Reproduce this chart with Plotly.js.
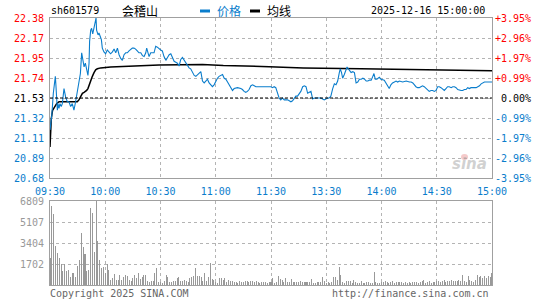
<!DOCTYPE html>
<html>
<head>
<meta charset="utf-8">
<script src="https://cdn.plot.ly/plotly-3.0.1.min.js"></script>
<style>html,body{margin:0;padding:0;background:#fff;}#chart{width:545px;height:300px;}</style>
</head>
<body>
<div id="chart"></div>
<script>
// ---- data (minute index from 09:30; 120 = 11:30/13:00, 240 = 15:00) ----
const stockCode = "sh601579";
const stockName = "会稽山";
const stamp = "2025-12-16 15:00:00";
const prevClose = 21.53;
const priceLabels = ["20.68","20.89","21.11","21.32","21.53","21.74","21.95","22.17","22.38"];
const pctLabels = ["-3.95%","-2.96%","-1.97%","-0.99%","\u00a00.00%","+0.99%","+1.97%","+2.96%","+3.95%"];
const volLabels = ["1702","3404","5107","6809"];
const timeLabels = ["09:30","10:00","10:30","11:00","11:30","13:30","14:00","14:30","15:00"];

const priceTime = [0,1,1.8,2.5,2.9,3.2,3.6,4,4.3,4.9,5.4,6.1,6.7,7.2,7.6,8.5,9.4,10.3,11.2,12.1,13,13.9,14.8,15.7,16.5,17.2,17.9,18.5,19.2,19.9,20.6,21.2,21.5,22.1,22.6,23.2,23.9,24.4,25,25.3,26.1,26.6,27.2,27.9,28.4,29.3,30.2,31.1,32,32.9,33.9,34.8,35.7,36.6,37.5,38.4,39.3,40.2,41.1,42,42.9,43.8,44.7,45.6,46.5,47.4,48.3,49.3,50.2,51.1,52,52.5,53.2,53.8,54.7,55.6,56.5,57.4,58.3,
60.1,61,61.9,62.9,63.8,64.7,65.6,66.5,67.4,68.3,69.2,70.1,71,71.9,72.8,73.7,74.6,75.5,76.4,77.3,78.3,79.2,80.1,81,81.9,82.8,83.7,84.6,85.5,86.4,87.3,88.2,89.1,90,90.9,91.8,92.7,93.7,94.6,95.5,96.4,97.3,98.2,99.1,100,101.8,103.6,104.5,105.4,106.3,107.2,108.1,109.1,110,110.9,111.8,114.5,118,
120,120.8,121.7,122.6,123.5,124.4,125.3,126.2,127.2,128.1,129,129.9,130.8,131.7,132.6,133.5,134.4,135.3,136.2,137.2,138.1,139,139.9,140.8,141.7,142.6,143.5,145.3,147.1,148,148.9,149.8,150.7,151.6,152.5,153.5,154.4,155.3,156.2,157.1,157.6,158.3,158.9,159.8,160.7,161.3,162,162.6,163.5,164.4,165.3,166.2,167.1,168,169,169.9,170.8,171.7,172.6,173.5,174.4,175.3,175.9,176.6,177.5,
178.8,179.7,181.5,182.4,183.3,184.2,185.1,186,187,187.9,188.8,189.7,191.5,193.4,195.2,196.1,197,197.8,198.7,199.6,200.5,201.4,202.3,203.2,204.1,205,205.9,206.9,207.8,208.7,209.6,210.5,211.4,212.3,213.2,214.1,215,215.9,216.8,217.8,218.7,219.6,220.5,221.4,223.2,224.1,225,225.9,226.8,227.7,228.6,229.6,231.4,232.3,233.2,234.1,235,235.9,240];
const priceValue = [21.19,21.35,21.58,21.72,21.76,21.67,21.51,21.40,21.47,21.42,21.47,21.44,21.47,21.58,21.63,21.54,21.49,21.49,21.44,21.47,21.40,21.49,21.58,21.69,21.79,22.01,21.92,21.86,21.90,21.83,21.77,21.90,22.13,22.25,22.27,22.21,22.27,22.34,22.38,22.25,22.20,22.22,22.18,22.15,22.06,22.02,22.00,22.04,22.02,22.00,22.02,22.05,22.01,22.06,21.99,21.95,21.93,21.99,22.01,22.01,22.03,22.05,22.06,22.06,22.05,22.03,22.01,22.01,21.98,21.97,22.01,22.06,21.99,21.97,22.01,22.01,22.01,22.08,22.07,
22.04,22.03,21.97,21.93,21.96,21.99,22.00,21.96,21.92,21.91,21.90,21.87,21.94,21.96,21.93,21.90,21.87,21.85,21.84,21.80,21.77,21.76,21.78,21.80,21.81,21.71,21.69,21.71,21.73,21.69,21.67,21.65,21.67,21.71,21.74,21.76,21.77,21.78,21.74,21.73,21.70,21.67,21.64,21.61,21.63,21.64,21.63,21.62,21.60,21.59,21.60,21.62,21.66,21.67,21.66,21.65,21.65,21.65,
21.65,21.64,21.65,21.64,21.58,21.53,21.51,21.53,21.51,21.51,21.51,21.50,21.49,21.50,21.52,21.55,21.55,21.57,21.60,21.65,21.66,21.65,21.58,21.59,21.60,21.52,21.53,21.53,21.53,21.52,21.51,21.52,21.53,21.53,21.55,21.63,21.68,21.67,21.71,21.80,21.84,21.80,21.74,21.78,21.83,21.86,21.84,21.82,21.80,21.81,21.80,21.69,21.70,21.73,21.73,21.74,21.73,21.71,21.71,21.72,21.72,21.76,21.79,21.73,21.73,
21.75,21.73,21.72,21.69,21.65,21.63,21.67,21.69,21.70,21.71,21.70,21.71,21.70,21.71,21.70,21.70,21.69,21.67,21.65,21.64,21.64,21.65,21.66,21.65,21.63,21.61,21.60,21.61,21.61,21.60,21.61,21.65,21.65,21.64,21.62,21.61,21.63,21.65,21.65,21.64,21.65,21.65,21.64,21.62,21.61,21.61,21.62,21.62,21.64,21.63,21.64,21.64,21.64,21.65,21.66,21.68,21.69,21.70,21.70];

const avgTime = [0,0.7,1.4,2.5,3.6,4.9,14.8,15.7,16.6,17.6,18.5,19.9,20.6,21.4,22.1,23,23.9,24.8,25.7,27.5,32.9,43.8,51.1,59.2,82.8,94.1,119,123.5,137.6,168.7,225.3,240];
const avgValue = [21.01,21.31,21.40,21.44,21.47,21.49,21.49,21.51,21.54,21.58,21.59,21.61,21.63,21.68,21.73,21.76,21.80,21.83,21.84,21.85,21.86,21.87,21.87,21.88,21.885,21.874,21.863,21.86,21.85,21.84,21.83,21.82];

const volume = [2160,6426,5778,3186,2565,2214,1701,1161,1701,1161,1242,621,945,945,621,1566,2052,4239,3105,2538,1161,1242,6210,5805,2700,6809,3591,2052,1350,1431,972,1701,1242,432,540,918,405,432,837,432,675,837,756,432,297,540,837,540,999,486,648,837,837,351,270,324,351,972,1404,270,216,162,351,837,621,270,270,324,324,594,675,324,324,405,324,270,594,621,702,1350,756,702,621,351,972,351,648,1809,486,432,270,162,567,540,378,540,270,405,324,324,216,270,162,351,216,270,324,351,270,324,324,243,297,216,162,216,216,216,162,270,216,
540,162,216,756,486,405,270,594,216,216,513,270,216,270,270,351,216,270,270,216,270,513,162,162,216,270,270,621,351,162,270,162,216,675,675,432,1485,837,216,162,351,351,351,162,432,270,162,162,351,162,162,216,216,162,162,1080,270,162,162,270,216,351,216,162,216,351,162,216,270,270,216,162,270,162,216,162,270,216,270,162,270,351,405,162,216,324,162,270,270,324,324,270,324,405,270,324,324,405,324,351,324,405,324,810,324,216,756,432,351,216,432,810,621,756,594,702,594,756,648,972];

// ---- styling ----
const RED = "#ff0000", BLUE = "#0a7dcc", GRAY = "#999999";
const MONO = "DejaVu Sans Mono, monospace";
const CJK = "Noto Sans CJK SC, sans-serif";
const L = 50, R = 53, T = 18, B = 15, W = 545, H = 300;
const pw = W - L - R, ph = H - T - B;
const px = x => (x - L) / pw;
const py = y => (H - B - y) / ph;

const yMin = 20.68, yMax = 22.38;
const step = (yMax - yMin) / (priceLabels.length - 1);
const priceTicks = priceLabels.map((_, k) => yMin + k * step);
const colorOf = k => k < 4 ? BLUE : (k === 4 ? "#000000" : RED);
const priceText = priceLabels.map((t, k) => `<span style="color:${colorOf(k)}">${t}</span>`);
const pctText = pctLabels.map((t, k) => `<span style="color:${colorOf(k)}">${t}</span>`);
const timeTicks = timeLabels.map((_, k) => k * 30);
const volMax = Math.max(...volume);
const volTicks = volLabels.map(Number);
const minutes = volume.map((_, i) => i);

const traces = [
  {x: minutes, y: volume, type: "bar", xaxis: "x2", yaxis: "y2", width: 0.55,
   marker: {color: GRAY, line: {width: 0}}, hoverinfo: "skip"},
  {x: avgTime, y: avgValue, type: "scatter", mode: "lines", xaxis: "x", yaxis: "y",
   line: {color: "#000000", width: 1.5}},
  {x: priceTime, y: priceValue, type: "scatter", mode: "lines", xaxis: "x", yaxis: "y",
   line: {color: BLUE, width: 1.1}},
  {x: [0], y: [prevClose], type: "scatter", mode: "markers", xaxis: "x", yaxis: "y3",
   marker: {opacity: 0}, hoverinfo: "skip"}
];

const gridStyle = {showgrid: true, gridcolor: "#b4b4b4", griddash: "dot", gridwidth: 1,
  showline: true, mirror: true, linecolor: "#a0a0a0", linewidth: 1, zeroline: false, ticks: ""};

const layout = {
  width: W, height: H, margin: {l: L, r: R, t: T, b: B},
  paper_bgcolor: "#ffffff", plot_bgcolor: "#ffffff", showlegend: false, bargap: 0,
  xaxis: Object.assign({}, gridStyle, {domain: [0, 1], anchor: "y", range: [0, 240],
    tickvals: timeTicks, ticktext: timeLabels, ticklabelstandoff: 4,
    tickfont: {family: MONO, size: 10, color: BLUE}}),
  yaxis: Object.assign({}, gridStyle, {domain: [py(178), 1], anchor: "x", range: [yMin, yMax],
    tickvals: priceTicks, ticktext: priceText, ticklabelstandoff: 3,
    tickfont: {family: MONO, size: 10, color: "#000"}}),
  yaxis3: {overlaying: "y", side: "right", anchor: "x", range: [yMin, yMax], showgrid: false,
    zeroline: false, showline: false, ticks: "", tickvals: priceTicks, ticktext: pctText,
    ticklabelstandoff: 2, tickfont: {family: MONO, size: 10, color: "#000"}},
  xaxis2: Object.assign({}, gridStyle, {domain: [0, 1], anchor: "y2", range: [0, 240],
    tickvals: timeTicks, showticklabels: false}),
  yaxis2: Object.assign({}, gridStyle, {domain: [0, py(201)], anchor: "x2", range: [0, volMax],
    tickvals: volTicks, ticktext: volLabels, ticklabelstandoff: 3,
    tickfont: {family: MONO, size: 10, color: GRAY}}),
  shapes: [
    {type: "line", xref: "x", yref: "y", x0: 0, x1: 240, y0: prevClose, y1: prevClose,
     line: {color: "#000", width: 1, dash: "3px,2px"}},
    {type: "line", xref: "paper", yref: "paper", x0: px(200), x1: px(210), y0: py(11), y1: py(11),
     line: {color: BLUE, width: 3}},
    {type: "line", xref: "paper", yref: "paper", x0: px(250), x1: px(260), y0: py(11), y1: py(11),
     line: {color: "#000", width: 3}},
    {type: "circle", xref: "paper", yref: "paper", x0: px(461), x1: px(468), y0: py(160), y1: py(154),
     fillcolor: "rgba(235,150,150,0.5)", line: {width: 0}}
  ],
  annotations: [
    {text: stockCode, xref: "paper", yref: "paper", x: px(49), y: py(11), xanchor: "left", yanchor: "middle",
     showarrow: false, font: {family: MONO, size: 10, color: "#000"}},
    {text: stockName, xref: "paper", yref: "paper", x: px(120), y: py(11), xanchor: "left", yanchor: "middle",
     showarrow: false, font: {family: CJK, size: 12, color: "#000"}},
    {text: "价格", xref: "paper", yref: "paper", x: px(215), y: py(11), xanchor: "left", yanchor: "middle",
     showarrow: false, font: {family: CJK, size: 12, color: BLUE}},
    {text: "均线", xref: "paper", yref: "paper", x: px(265), y: py(11), xanchor: "left", yanchor: "middle",
     showarrow: false, font: {family: CJK, size: 12, color: "#000"}},
    {text: stamp, xref: "paper", yref: "paper", x: px(487), y: py(11), xanchor: "right", yanchor: "middle",
     showarrow: false, font: {family: MONO, size: 10, color: "#000"}},
    {text: "Copyright 2025 SINA.COM", xref: "paper", yref: "paper", x: px(48), y: py(293), xanchor: "left", yanchor: "middle",
     showarrow: false, font: {family: MONO, size: 10, color: "#666"}},
    {text: "http://finance.sina.com.cn", xref: "paper", yref: "paper", x: px(491), y: py(293), xanchor: "right", yanchor: "middle",
     showarrow: false, font: {family: MONO, size: 10, color: "#666"}},
    {text: "<b><i>sina</i></b>", xref: "paper", yref: "paper", x: px(489), y: py(164), xanchor: "right", yanchor: "middle",
     showarrow: false, font: {family: "DejaVu Sans, sans-serif", size: 15, color: "rgba(170,170,170,0.55)"}}
  ]
};

Plotly.newPlot("chart", traces, layout, {staticPlot: true, displayModeBar: false});
</script>
</body>
</html>
